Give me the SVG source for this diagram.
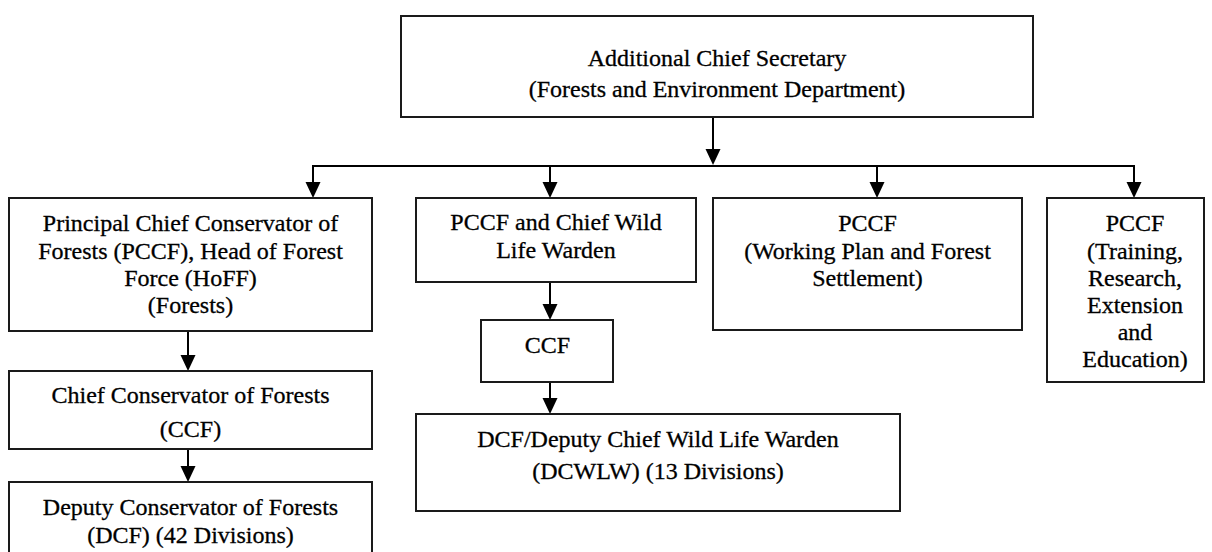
<svg xmlns="http://www.w3.org/2000/svg" width="1212" height="552" viewBox="0 0 1212 552">
<style>
.box{fill:#fff;stroke:#1a1a1a;stroke-width:2}
.t{font-family:"Liberation Serif","Times New Roman",serif;font-size:24px;fill:#000;stroke:#000;stroke-width:0.3;text-anchor:middle}
.c{stroke:#000;stroke-width:2;fill:none}
</style>
<defs>
<marker id="ah" viewBox="0 0 16 16" refX="10" refY="8" markerWidth="16" markerHeight="16" markerUnits="userSpaceOnUse" orient="auto">
<path d="M0,0.5 L16,8 L0,15.5 Z" fill="#000"/>
</marker>
</defs>
<rect width="1212" height="552" fill="#fff"/>
<g id="connectors">
<line class="c" x1="713" y1="117" x2="713" y2="159" marker-end="url(#ah)"/>
<line class="c" x1="312" y1="166" x2="1135" y2="166"/>
<line class="c" x1="313" y1="166" x2="313" y2="192" marker-end="url(#ah)"/>
<line class="c" x1="550" y1="166" x2="550" y2="192" marker-end="url(#ah)"/>
<line class="c" x1="877" y1="166" x2="877" y2="192" marker-end="url(#ah)"/>
<line class="c" x1="1134" y1="166" x2="1134" y2="192" marker-end="url(#ah)"/>
<line class="c" x1="188" y1="331" x2="188" y2="365" marker-end="url(#ah)"/>
<line class="c" x1="188" y1="449" x2="188" y2="476" marker-end="url(#ah)"/>
<line class="c" x1="550" y1="282" x2="550" y2="314" marker-end="url(#ah)"/>
<line class="c" x1="550" y1="382" x2="550" y2="408" marker-end="url(#ah)"/>
</g>
<g id="n-acs">
<rect class="box" x="401" y="16" width="632" height="101"/>
<text class="t" x="717" y="65.5">Additional Chief Secretary</text>
<text class="t" x="717" y="97">(Forests and Environment Department)</text>
</g>
<g id="n-pccf-hoff">
<rect class="box" x="9" y="198" width="363" height="133"/>
<text class="t" x="190.5" y="231">Principal Chief Conservator of</text>
<text class="t" x="190.5" y="259">Forests (PCCF), Head of Forest</text>
<text class="t" x="190.5" y="286">Force (HoFF)</text>
<text class="t" x="190.5" y="313">(Forests)</text>
</g>
<g id="n-ccf1">
<rect class="box" x="9" y="371" width="363" height="78"/>
<text class="t" x="190.5" y="403">Chief Conservator of Forests</text>
<text class="t" x="190.5" y="437">(CCF)</text>
</g>
<g id="n-dcf1">
<rect class="box" x="9" y="482" width="363" height="80"/>
<text class="t" x="190.5" y="515">Deputy Conservator of Forests</text>
<text class="t" x="190.5" y="543">(DCF) (42 Divisions)</text>
</g>
<g id="n-pccf-wl">
<rect class="box" x="416" y="198" width="280" height="84"/>
<text class="t" x="556" y="230">PCCF and Chief Wild</text>
<text class="t" x="556" y="257.5">Life Warden</text>
</g>
<g id="n-ccf2">
<rect class="box" x="481" y="320" width="132" height="62"/>
<text class="t" x="547.5" y="353">CCF</text>
</g>
<g id="n-dcwlw">
<rect class="box" x="416" y="414" width="484" height="97"/>
<text class="t" x="658" y="447">DCF/Deputy Chief Wild Life Warden</text>
<text class="t" x="658" y="478.5">(DCWLW) (13 Divisions)</text>
</g>
<g id="n-pccf-wp">
<rect class="box" x="713" y="198" width="309" height="132"/>
<text class="t" x="867.5" y="231">PCCF</text>
<text class="t" x="867.5" y="258.5">(Working Plan and Forest</text>
<text class="t" x="867.5" y="286">Settlement)</text>
</g>
<g id="n-pccf-tr">
<rect class="box" x="1047" y="198" width="157" height="184"/>
<text class="t" x="1135" y="231">PCCF</text>
<text class="t" x="1135" y="258.5">(Training,</text>
<text class="t" x="1135" y="286">Research,</text>
<text class="t" x="1135" y="313">Extension</text>
<text class="t" x="1135" y="340">and</text>
<text class="t" x="1135" y="367">Education)</text>
</g>
</svg>
